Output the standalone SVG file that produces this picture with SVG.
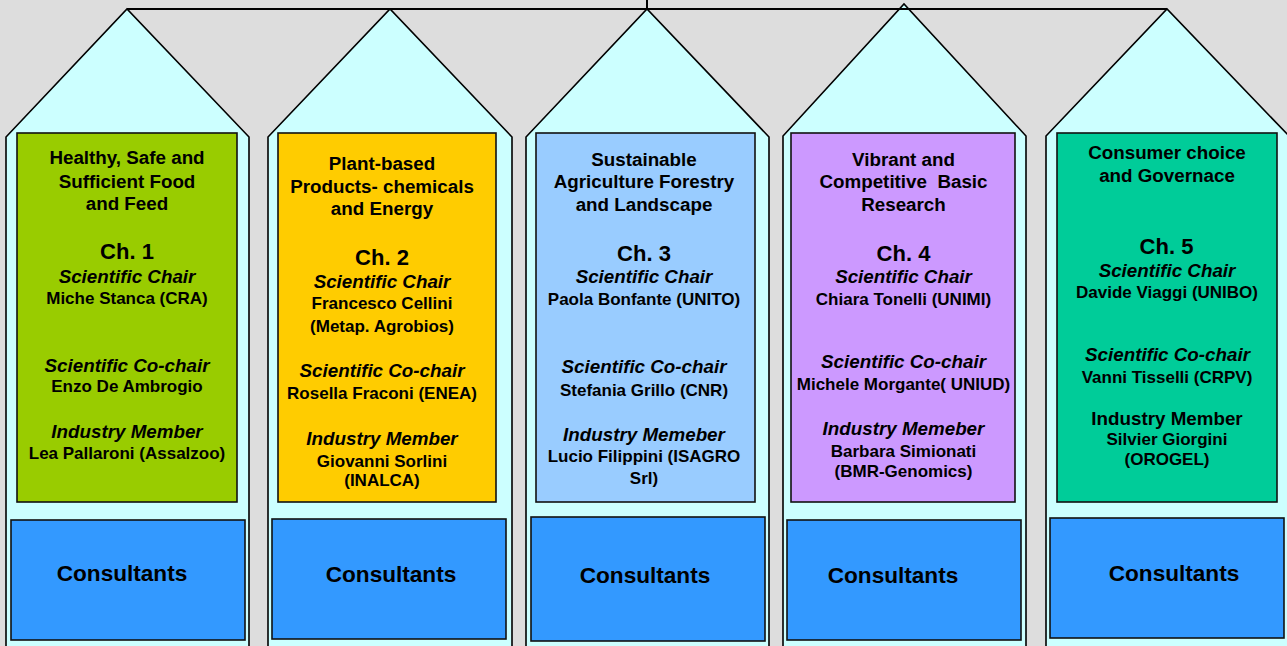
<svg xmlns="http://www.w3.org/2000/svg" width="1287" height="646" viewBox="0 0 1287 646">
<style>
.bg{fill:#DDDDDD}
.pent{fill:#CCFFFF;stroke:#000;stroke-width:1.6;stroke-linejoin:miter}
.box{stroke:#111;stroke-width:1.6}
.cons{fill:#3399FF;stroke:#111;stroke-width:1.6}
text{font-family:"Liberation Sans",Arial,sans-serif;font-weight:bold;fill:#000;text-anchor:middle}
.t{font-size:18.8px}
.ch{font-size:22px}
.r{font-size:18.8px;font-style:italic}
.n{font-size:17px}
.im{font-size:18.8px}
.c{font-size:22.6px}
.conn{stroke:#000;stroke-width:2;fill:none}
</style>
<rect class="bg" x="0" y="0" width="1287" height="646"/>

<g id="pillar1">
<path class="pent" d="M6 650 L6 137 L127 9 L249 137 L249 650"/>
<rect class="box" x="17" y="133" width="220" height="369" fill="#99CC00"/>
<text class="t" x="127" y="164">Healthy, Safe and</text>
<text class="t" x="127" y="187.5">Sufficient Food</text>
<text class="t" x="127" y="210">and Feed</text>
<text class="ch" x="127" y="259">Ch. 1</text>
<text class="r" x="127" y="283">Scientific Chair</text>
<text class="n" x="127" y="304">Miche Stanca (CRA)</text>
<text class="r" x="127" y="371.5">Scientific Co-chair</text>
<text class="n" x="127" y="392">Enzo De Ambrogio</text>
<text class="r" x="127" y="437.5">Industry Member</text>
<text class="n" x="127" y="459">Lea Pallaroni (Assalzoo)</text>
<rect class="cons" x="11" y="520" width="234" height="120"/>
<text class="c" x="122" y="581">Consultants</text>
</g>

<g id="pillar2">
<path class="pent" d="M268 650 L268 137 L390 9 L512 137 L512 650"/>
<rect class="box" x="278" y="133" width="218" height="369" fill="#FFCC00"/>
<text class="t" x="382" y="170">Plant-based</text>
<text class="t" x="382" y="192.5">Products- chemicals</text>
<text class="t" x="382" y="215">and Energy</text>
<text class="ch" x="382" y="265">Ch. 2</text>
<text class="r" x="382" y="287.5">Scientific Chair</text>
<text class="n" x="382" y="309">Francesco Cellini</text>
<text class="n" x="382" y="331.5">(Metap. Agrobios)</text>
<text class="r" x="382" y="376.5">Scientific Co-chair</text>
<text class="n" x="382" y="399">Rosella Fraconi (ENEA)</text>
<text class="r" x="382" y="445">Industry Member</text>
<text class="n" x="382" y="466.5">Giovanni Sorlini</text>
<text class="n" x="382" y="486">(INALCA)</text>
<rect class="cons" x="272" y="519" width="234" height="120"/>
<text class="c" x="391" y="582">Consultants</text>
</g>

<g id="pillar3">
<path class="pent" d="M526 650 L526 137 L647 9 L769 137 L769 650"/>
<rect class="box" x="536" y="133" width="219" height="369" fill="#99CCFF"/>
<text class="t" x="644" y="165.5">Sustainable</text>
<text class="t" x="644" y="188">Agriculture Forestry</text>
<text class="t" x="644" y="210.5">and Landscape</text>
<text class="ch" x="644" y="261">Ch. 3</text>
<text class="r" x="644" y="283">Scientific Chair</text>
<text class="n" x="644" y="305">Paola Bonfante (UNITO)</text>
<text class="r" x="644" y="372.5">Scientific Co-chair</text>
<text class="n" x="644" y="396">Stefania Grillo (CNR)</text>
<text class="r" x="644" y="440.5">Industry Memeber</text>
<text class="n" x="644" y="462">Lucio Filippini (ISAGRO</text>
<text class="n" x="644" y="484">Srl)</text>
<rect class="cons" x="531" y="517" width="234" height="124"/>
<text class="c" x="645" y="583">Consultants</text>
</g>

<g id="pillar4">
<path class="pent" d="M783 650 L783 136 L904 4 L1026 136 L1026 650"/>
<rect class="box" x="791" y="133" width="224" height="369" fill="#CC99FF"/>
<text class="t" x="903.5" y="165.5">Vibrant and</text>
<text class="t" x="903.5" y="188" xml:space="preserve">Competitive  Basic</text>
<text class="t" x="903.5" y="210.5">Research</text>
<text class="ch" x="903.5" y="261">Ch. 4</text>
<text class="r" x="903.5" y="283">Scientific Chair</text>
<text class="n" x="903.5" y="305">Chiara Tonelli (UNIMI)</text>
<text class="r" x="903.5" y="367.5">Scientific Co-chair</text>
<text class="n" x="903.5" y="390">Michele Morgante( UNIUD)</text>
<text class="r" x="903.5" y="435">Industry Memeber</text>
<text class="n" x="903.5" y="456.5">Barbara Simionati</text>
<text class="n" x="903.5" y="476.5">(BMR-Genomics)</text>
<rect class="cons" x="787" y="520" width="234" height="120"/>
<text class="c" x="893" y="583">Consultants</text>
</g>

<g id="pillar5">
<path class="pent" d="M1046 650 L1046 136 L1167 9 L1289 136 L1289 650"/>
<rect class="box" x="1057" y="133" width="220" height="369" fill="#00CC99"/>
<text class="t" x="1167" y="159">Consumer choice</text>
<text class="t" x="1167" y="181.5">and Governace</text>
<text class="ch" x="1166.5" y="254">Ch. 5</text>
<text class="r" x="1167" y="276.5">Scientific Chair</text>
<text class="n" x="1167" y="298">Davide Viaggi (UNIBO)</text>
<text class="r" x="1167.5" y="360.5">Scientific Co-chair</text>
<text class="n" x="1167" y="382.5">Vanni Tisselli (CRPV)</text>
<text class="im" x="1167" y="425">Industry Member</text>
<text class="n" x="1167" y="445">Silvier Giorgini</text>
<text class="n" x="1167" y="465">(OROGEL)</text>
<rect class="cons" x="1050" y="518" width="234" height="120"/>
<text class="c" x="1174" y="581">Consultants</text>
</g>

<g id="connectors">
<line class="conn" x1="127" y1="9" x2="1167" y2="9"/>
<line class="conn" x1="647" y1="0" x2="647" y2="9"/>
</g>
</svg>
